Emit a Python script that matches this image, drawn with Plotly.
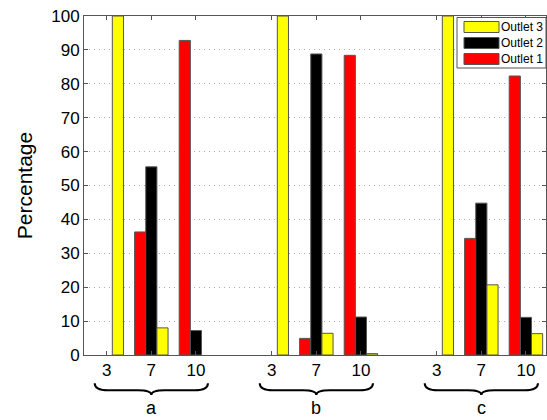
import plotly.graph_objects as go

# --- data ---
groups = ["a", "b", "c"]
tick_labels = ["3", "7", "10", "3", "7", "10", "3", "7", "10"]
x_pos = [1, 2, 3, 4.7, 5.7, 6.7, 8.4, 9.4, 10.4]
outlet1 = [None, 36.3, 92.8, None, 4.9, 88.4, None, 34.4, 82.3]
outlet2 = [None, 55.5, 7.2, None, 88.8, 11.2, None, 44.8, 11.1]
outlet3 = [100, 8.0, None, 100, 6.4, 0.4, 100, 20.7, 6.3]
series_names = ["Outlet 1", "Outlet 2", "Outlet 3"]
series_colors = ["#ff0000", "#000000", "#ffff00"]

FONT = "Liberation Sans, Arial, Helvetica, sans-serif"
W, H = 547, 420
ML, MR, MT, MB = 84, 1, 16, 65
PW, PH = W - ML - MR, H - MT - MB


def px_x(p):
    return (p - ML) / PW


def px_y(p):
    return (H - MB - p) / PH


fig = go.Figure()
for name, vals, col in zip(series_names, [outlet1, outlet2, outlet3], series_colors):
    fig.add_trace(go.Bar(x=x_pos, y=vals, name=name, showlegend=False,
                         marker=dict(color=col, line=dict(color="#555555", width=1))))

shapes = []
annotations = []

# curly braces under each group
y_top, y_mid, y_bot = -0.083, -0.104, -0.118
for gi, g in enumerate(groups):
    xc = x_pos[gi * 3 + 1]
    x0 = xc - 1.27
    x1 = xc + 1.27
    r = 0.3
    path = (f"M {x0},{y_top} Q {x0},{y_mid} {x0 + r},{y_mid} "
            f"L {xc - r},{y_mid} Q {xc},{y_mid} {xc},{y_bot} "
            f"Q {xc},{y_mid} {xc + r},{y_mid} "
            f"L {x1 - r},{y_mid} Q {x1},{y_mid} {x1},{y_top}")
    shapes.append(dict(type="path", path=path, xref="x", yref="paper",
                       line=dict(color="black", width=2)))
    annotations.append(dict(x=xc, y=-0.157, xref="x", yref="paper", text=g,
                            showarrow=False, yanchor="middle",
                            font=dict(family=FONT, size=18, color="black")))

# legend box (MATLAB style, wide swatches), entries in reversed order
shapes.append(dict(type="rect", xref="paper", yref="paper",
                   x0=px_x(457), x1=px_x(546), y0=px_y(68), y1=px_y(17.5),
                   fillcolor="white", line=dict(color="#555555", width=1), layer="above"))
for i, (name, col) in enumerate(zip(series_names[::-1], series_colors[::-1])):
    cy = 27 + 16 * i
    shapes.append(dict(type="rect", xref="paper", yref="paper",
                       x0=px_x(464), x1=px_x(499), y0=px_y(cy + 5.5), y1=px_y(cy - 5.5),
                       fillcolor=col, line=dict(color="#555555", width=1), layer="above"))
    annotations.append(dict(x=px_x(499), y=px_y(cy), xref="paper", yref="paper",
                            text=name, showarrow=False, xanchor="left", yanchor="middle",
                            font=dict(family=FONT, size=12, color="black")))

fig.update_layout(
    width=W, height=H,
    margin=dict(l=ML, r=MR, t=MT, b=MB),
    paper_bgcolor="white", plot_bgcolor="white",
    barmode="group", bargap=0.25, bargroupgap=0,
    font=dict(family=FONT, size=17, color="black"),
    showlegend=False,
    shapes=shapes,
    annotations=annotations,
    xaxis=dict(range=[0.49, 10.85], tickmode="array", tickvals=x_pos,
               ticktext=tick_labels, ticks="inside", ticklen=4,
               tickcolor="#555555", showgrid=False, zeroline=False,
               showline=True, linecolor="#555555", linewidth=1, mirror="ticks",
               tickfont=dict(size=17)),
    yaxis=dict(range=[0, 100], dtick=10, ticks="inside", ticklen=4,
               tickcolor="#555555", showgrid=True, gridcolor="#aaaaaa",
               griddash="1px,4px", gridwidth=1, zeroline=False,
               showline=True, linecolor="#555555", linewidth=1, mirror="ticks",
               tickfont=dict(size=17),
               title=dict(text="Percentage", font=dict(size=21), standoff=12)),
)

fig.write_html("out.html")
